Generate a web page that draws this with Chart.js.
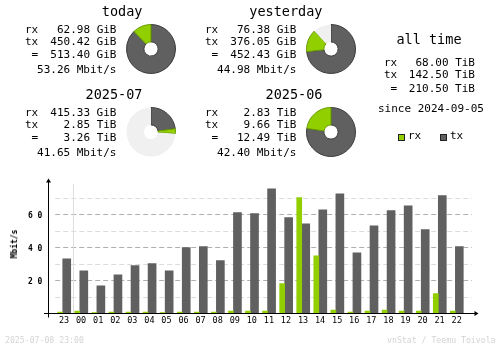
<!DOCTYPE html>
<html><head><meta charset="utf-8">
<script src="https://cdn.jsdelivr.net/npm/chart.js@4.4.1/dist/chart.umd.min.js"></script>
<style>
html,body{margin:0;padding:0;background:#fff;}
#wrap{position:relative;width:500px;height:348px;overflow:hidden;background:#fff;font-family:'DejaVu Sans Mono',monospace;}
.t{position:absolute;white-space:pre;color:#000;font-family:'DejaVu Sans Mono',monospace;}
canvas{position:absolute;}
.sq{position:absolute;width:5px;height:5px;border:1px solid #222;}
</style></head><body><div id="wrap">
<canvas id="bars" width="500" height="348" style="left:0;top:0"></canvas>
</div>
<script>
// ---- data ----
const hours = ['23','00','01','02','03','04','05','06','07','08','09','10','11','12','13','14','15','16','17','18','19','20','21','22'];
const rxRate = [0.6,1.2,0.2,0.6,0.6,0.6,0.2,0.6,0.6,0.6,1.2,1.2,1.2,17.8,69.9,34.7,1.8,0.6,1.2,1.8,1.2,1.2,11.7,1.2];
const txRate = [32.9,25.6,16.5,23.2,28.7,29.9,25.6,39.6,40.2,31.7,60.8,60.2,75.3,57.8,54.1,62.6,72.3,36.5,52.9,62.0,65.0,50.5,71.1,40.2];
const yTickValues = [20,40,60];

const periodTitles = ['today','yesterday','2025-07','2025-06'];
const periodRx = [62.98,76.38,415.33,2.83];
const periodRxUnit = ['GiB','GiB','GiB','TiB'];
const periodTx = [450.42,376.05,2.85,9.66];
const periodTxUnit = ['GiB','GiB','TiB','TiB'];
const periodTotal = [513.40,452.43,3.26,12.49];
const periodTotalUnit = ['GiB','GiB','TiB','TiB'];
const periodRate = [53.26,44.98,41.65,42.40];

const allTimeLabels = ['rx','tx',' ='];
const allTimeValues = [68.00,142.50,210.50];
const allTimeUnit = 'TiB';
const sinceDate = '2024-09-05';
const stampText = '2025-07-08 23:00';
const creditText = 'vnStat / Teemu Toivola';

// ---- styles ----
const RX = '#92CF00', TX = '#606060', RXB = '#6a9a00', TXB = '#3c3c3c', REST = '#f0f0f0';
const wrap = document.getElementById('wrap');

function put(text, x, cy, fs, align, extra) {
  const d = document.createElement('div');
  d.className = 't';
  d.textContent = text;
  d.style.fontSize = fs + 'px';
  d.style.lineHeight = fs + 'px';
  d.style.top = (cy - 0.4815 * fs) + 'px';
  if (align === 'right') d.style.right = (500 - x) + 'px';
  else if (align === 'center') { d.style.left = x + 'px'; d.style.transform = 'translateX(-50%)'; }
  else d.style.left = x + 'px';
  if (extra) Object.assign(d.style, extra);
  wrap.appendChild(d);
  return d;
}
const toGiB = (v, u) => u === 'TiB' ? v * 1024 : v;
const fmt = (v, u) => v.toFixed(2) + ' ' + u;

// ---- period blocks ----
const blocks = [
  {labelX: 25, rightX: 116.5, titleR: 142.5, rowY: 29.3, pieL: 126, pieT: 24},
  {labelX: 205, rightX: 296.5, titleR: 322.5, rowY: 29.3, pieL: 306, pieT: 24},
  {labelX: 25, rightX: 116.5, titleR: 142.5, rowY: 112.2, pieL: 126, pieT: 107},
  {labelX: 205, rightX: 296.5, titleR: 322.5, rowY: 112.2, pieL: 306, pieT: 107}
];
const rowOff = [0, 12, 25, 40];
const dayMax = Math.max(toGiB(periodTotal[0], periodTotalUnit[0]), toGiB(periodTotal[1], periodTotalUnit[1]));
const monMax = Math.max(toGiB(periodTotal[2], periodTotalUnit[2]), toGiB(periodTotal[3], periodTotalUnit[3]));

blocks.forEach((b, i) => {
  put(periodTitles[i], b.titleR, b.rowY - 18, 13.5, 'right');
  put('rx', b.labelX, b.rowY + rowOff[0], 11, 'left');
  put('tx', b.labelX, b.rowY + rowOff[1], 11, 'left');
  put(' =', b.labelX, b.rowY + rowOff[2], 11, 'left');
  put(fmt(periodRx[i], periodRxUnit[i]), b.rightX, b.rowY + rowOff[0], 11, 'right');
  put(fmt(periodTx[i], periodTxUnit[i]), b.rightX, b.rowY + rowOff[1], 11, 'right');
  put(fmt(periodTotal[i], periodTotalUnit[i]), b.rightX, b.rowY + rowOff[2], 11, 'right');
  put(periodRate[i].toFixed(2) + ' Mbit/s', b.rightX, b.rowY + rowOff[3], 11, 'right');

  const c = document.createElement('canvas');
  c.width = 50; c.height = 50;
  c.style.left = b.pieL + 'px'; c.style.top = b.pieT + 'px';
  wrap.appendChild(c);
  const txG = toGiB(periodTx[i], periodTxUnit[i]);
  const rxG = toGiB(periodRx[i], periodRxUnit[i]);
  const full = i < 2 ? dayMax : monMax;
  const rest = Math.max(full - toGiB(periodTotal[i], periodTotalUnit[i]), 0);
  new Chart(c, {
    type: 'doughnut',
    data: {labels: ['tx','rx','rest'], datasets: [{
      data: [txG, rxG, rest],
      backgroundColor: [TX, RX, REST],
      borderColor: [TXB, RXB, REST],
      borderWidth: [1, 1, 0]
    }]},
    options: {
      responsive: false, animation: false, devicePixelRatio: 1, cutout: '29%',
      plugins: {legend: {display: false}, tooltip: {enabled: false}}
    }
  });
});

// ---- all time ----
put('all time', 429, 39.4, 13.5, 'center');
const atRows = [62.5, 74.2, 88];
allTimeValues.forEach((v, i) => {
  put(allTimeLabels[i], 384, atRows[i], 11, 'left');
  put(fmt(v, allTimeUnit), 475, atRows[i], 11, 'right');
});
put('since ' + sinceDate, 378, 108.3, 11, 'left');
// legend
const sq1 = document.createElement('div'); sq1.className = 'sq'; sq1.style.left = '398px'; sq1.style.top = '134px'; sq1.style.background = RX; wrap.appendChild(sq1);
put('rx', 408, 135.3, 11, 'left');
const sq2 = document.createElement('div'); sq2.className = 'sq'; sq2.style.left = '440px'; sq2.style.top = '134px'; sq2.style.background = TX; wrap.appendChild(sq2);
put('tx', 450, 135.3, 11, 'left');

// footer
put(stampText, 5, 340.3, 8.2, 'left', {color: '#d4d4d4'});
put(creditText, 495.5, 340.3, 8.2, 'right', {color: '#d4d4d4'});
// y axis title
put('Mbit/s', 14.5, 244, 8, 'left', {fontWeight: 'bold', transform: 'translate(-50%,-50%) rotate(-90deg)', top: '244px', lineHeight: '8px'});

// ---- bar chart ----
const axisPlugin = {
  id: 'vnaxes',
  beforeDatasetsDraw(chart) {
    const {ctx, chartArea, scales} = chart;
    const y = scales.y, x = scales.x;
    ctx.save();
    ctx.lineWidth = 1;
    ctx.setLineDash([5, 3]);
    for (let v = 10; v <= 70; v += 10) {
      const py = Math.round(y.getPixelForValue(v)) + 0.5;
      ctx.strokeStyle = (v % 20 === 0) ? '#b0b0b0' : '#dcdcdc';
      ctx.beginPath();
      ctx.moveTo(chartArea.left + 1, py);
      ctx.lineTo(chartArea.right + 8, py);
      ctx.stroke();
    }
    ctx.setLineDash([]);
    // day separator
    const sx = Math.floor((x.getPixelForValue(0) + x.getPixelForValue(1)) / 2 + 2) + 0.5;
    ctx.strokeStyle = '#dedede';
    ctx.beginPath();
    ctx.moveTo(sx, chartArea.top + 3);
    ctx.lineTo(sx, chartArea.bottom);
    ctx.stroke();
    ctx.restore();
  },
  afterDatasetsDraw(chart) {
    const {ctx, chartArea, scales} = chart;
    const y = scales.y;
    ctx.save();
    ctx.strokeStyle = '#000';
    ctx.fillStyle = '#000';
    ctx.lineWidth = 1;
    const ax = 48.5, ay = chartArea.bottom + 0.5;
    ctx.beginPath();
    ctx.moveTo(ax, chartArea.top); ctx.lineTo(ax, ay + 4);
    ctx.moveTo(44, ay); ctx.lineTo(476, ay);
    ctx.stroke();
    // arrows
    ctx.beginPath();
    ctx.moveTo(ax, chartArea.top - 2.5); ctx.lineTo(ax - 2.5, chartArea.top + 1.5); ctx.lineTo(ax + 2.5, chartArea.top + 1.5); ctx.closePath();
    ctx.fill();
    ctx.beginPath();
    ctx.moveTo(478.5, ay); ctx.lineTo(474.5, ay - 2.5); ctx.lineTo(474.5, ay + 2.5); ctx.closePath();
    ctx.fill();
    // y labels
    ctx.font = 'bold 8px "DejaVu Sans Mono"';
    ctx.letterSpacing = '4.6px';
    ctx.textAlign = 'left';
    ctx.textBaseline = 'alphabetic';
    yTickValues.forEach(v => {
      const py = y.getPixelForValue(v);
      ctx.fillText(String(v), 28, py + 3.6);
    });
    ctx.restore();
  }
};

new Chart(document.getElementById('bars'), {
  type: 'bar',
  data: {labels: hours, datasets: [
    {label: 'rx', data: rxRate, backgroundColor: RX, barThickness: 5, borderWidth: 0},
    {label: 'tx', data: txRate, backgroundColor: TX, barThickness: 8, borderWidth: 0}
  ]},
  options: {
    responsive: false, animation: false, devicePixelRatio: 1,
    layout: {padding: {left: 54.2, right: 36.1, top: 181, bottom: 0}},
    plugins: {legend: {display: false}, tooltip: {enabled: false}},
    scales: {
      x: {
        grid: {display: false, drawTicks: false},
        border: {display: false},
        ticks: {font: {family: 'DejaVu Sans Mono', size: 8.5}, color: '#000', padding: 3, maxRotation: 0, autoSkip: false, labelOffset: 1.3},
        afterFit: s => { s.height = 35; }
      },
      y: {display: false, min: 0, max: 80}
    }
  },
  plugins: [axisPlugin]
});
</script>
</body></html>
